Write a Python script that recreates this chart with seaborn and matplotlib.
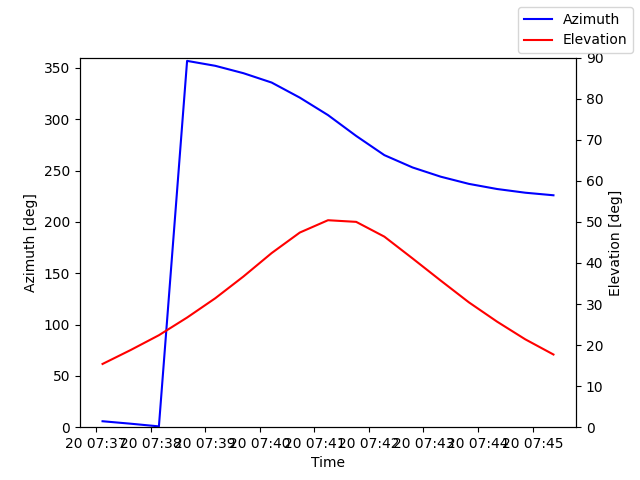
import pandas as pd
import seaborn as sns
import matplotlib
matplotlib.use('Agg')
import matplotlib.pyplot as plt

# samples every ~31 s starting 07:37:07
times = pd.date_range('2023-03-20 07:37:07', periods=17, freq='31s')
azimuth = [5.8, 3.4, 0.8, 356.8, 352.0, 344.8, 335.7, 321.0, 304.0, 283.7,
           265.0, 253.0, 244.0, 237.0, 232.0, 228.4, 225.9]
elevation = [15.4, 18.8, 22.4, 26.7, 31.4, 36.7, 42.4, 47.4, 50.4, 50.0,
             46.4, 41.1, 35.7, 30.4, 25.7, 21.4, 17.7]

df = pd.DataFrame({'Time': times, 'Azimuth': azimuth, 'Elevation': elevation})

fig, ax = plt.subplots(figsize=(6.4, 4.8), dpi=100)
ax2 = ax.twinx()

sns.lineplot(data=df, x='Time', y='Azimuth', color='blue', label='Azimuth',
             legend=False, ax=ax)
sns.lineplot(data=df, x='Time', y='Elevation', color='red', label='Elevation',
             legend=False, ax=ax2)

ax.set_ylim(0, 360)
ax2.set_ylim(0, 90)
ax.set_xlabel('Time')
ax.set_ylabel('Azimuth [deg]')
ax2.set_ylabel('Elevation [deg]')

fig.legend()
fig.savefig('out.png')
